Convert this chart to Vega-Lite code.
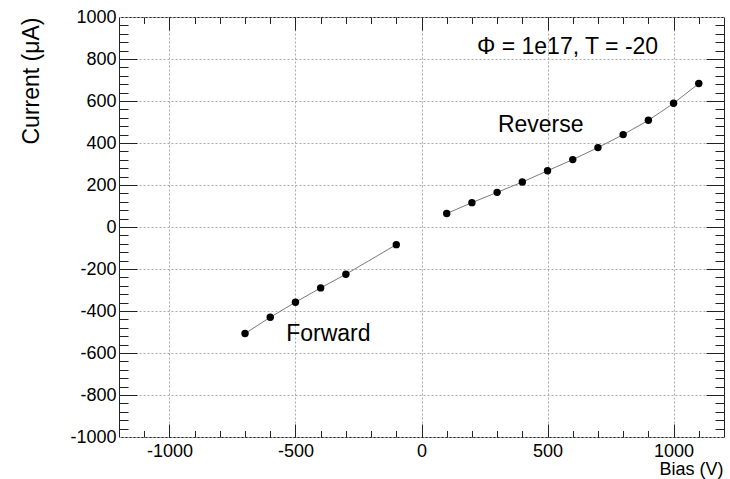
{
  "$schema": "https://vega.github.io/schema/vega-lite/v6.json",
  "width": 605,
  "height": 420,
  "autosize": {"type": "none"},
  "padding": {"left": 119, "top": 17, "right": 6, "bottom": 42},
  "background": "white",
  "config": {
    "font": "Liberation Sans",
    "view": {"stroke": "#222", "strokeWidth": 1},
    "axis": {
      "labelFont": "Liberation Sans",
      "titleFont": "Liberation Sans",
      "labelColor": "#000",
      "titleColor": "#000",
      "tickColor": "#222",
      "tickWidth": 1,
      "gridColor": "#aaa",
      "gridDash": [2, 2],
      "gridWidth": 1,
      "titleFontWeight": "normal"
    }
  },
  "datasets": {
    "pts": [
      {"series": "Forward", "bias": -700, "current": -507},
      {"series": "Forward", "bias": -600, "current": -430},
      {"series": "Forward", "bias": -500, "current": -358},
      {"series": "Forward", "bias": -400, "current": -290},
      {"series": "Forward", "bias": -300, "current": -225},
      {"series": "Forward", "bias": -100, "current": -84},
      {"series": "Reverse", "bias": 100, "current": 64},
      {"series": "Reverse", "bias": 200, "current": 116},
      {"series": "Reverse", "bias": 300, "current": 165},
      {"series": "Reverse", "bias": 400, "current": 214},
      {"series": "Reverse", "bias": 500, "current": 268},
      {"series": "Reverse", "bias": 600, "current": 321},
      {"series": "Reverse", "bias": 700, "current": 378},
      {"series": "Reverse", "bias": 800, "current": 440},
      {"series": "Reverse", "bias": 900, "current": 508},
      {"series": "Reverse", "bias": 1000, "current": 589},
      {"series": "Reverse", "bias": 1100, "current": 683}
    ],
    "notes": [
      {"label": "Φ = 1e17, T = -20", "bias": 220, "current": 823},
      {"label": "Reverse", "bias": 303, "current": 451},
      {"label": "Forward", "bias": -537, "current": -541}
    ]
  },
  "resolve": {"axis": {"x": "independent", "y": "independent"}},
  "layer": [
    {
      "mark": {"type": "rule", "color": "#444", "strokeWidth": 1.6},
      "encoding": {
        "y": {"datum": 0, "type": "quantitative", "scale": {"domain": [-1000, 1000], "nice": false, "zero": false}, "axis": null}
      }
    },
    {
      "data": {"name": "pts"},
      "mark": {"type": "line", "color": "#7a7a7a", "strokeWidth": 1},
      "encoding": {
        "x": {
          "field": "bias", "type": "quantitative",
          "scale": {"domain": [-1200, 1200], "nice": false, "zero": false},
          "axis": {
            "orient": "bottom", "values": [-1000, -500, 0, 500, 1000],
            "labelExpr": "'' + datum.value",
            "ticks": false, "domain": false, "grid": true,
            "labelFontSize": 18, "labelPadding": 5,
            "title": "Bias (V)", "titleFontSize": 18,
            "titleAlign": "right", "titleAnchor": "end", "titleX": 604, "titleY": 37, "titleBaseline": "alphabetic"
          }
        },
        "y": {
          "field": "current", "type": "quantitative",
          "scale": {"domain": [-1000, 1000], "nice": false, "zero": false},
          "axis": {
            "orient": "left", "values": [-1000, -800, -600, -400, -200, 0, 200, 400, 600, 800, 1000],
            "labelExpr": "'' + datum.value",
            "ticks": false, "domain": false, "grid": true,
            "labelFontSize": 18, "labelPadding": 3,
            "title": "Current (μA)", "titleFontSize": 23,
            "titleAngle": 270, "titleAlign": "right", "titleBaseline": "middle", "titleX": -88, "titleY": 0
          }
        },
        "detail": {"field": "series"}
      }
    },
    {
      "data": {"name": "pts"},
      "mark": {"type": "point", "filled": true, "color": "#000", "opacity": 1, "size": 55},
      "encoding": {
        "x": {
          "field": "bias", "type": "quantitative",
          "axis": {"orient": "bottom", "values": [-1000, -500, 0, 500, 1000], "labels": false, "grid": false, "domain": false, "offset": -13, "tickSize": 13, "title": null}
        },
        "y": {
          "field": "current", "type": "quantitative",
          "axis": {"orient": "left", "values": [-800, -600, -400, -200, 0, 200, 400, 600, 800], "labels": false, "grid": false, "domain": false, "offset": -18, "tickSize": 18, "title": null}
        }
      }
    },
    {
      "data": {"name": "pts"},
      "mark": {"type": "point", "opacity": 0},
      "encoding": {
        "x": {
          "field": "bias", "type": "quantitative",
          "axis": {"orient": "bottom", "values": [-1100, -1000, -900, -800, -700, -600, -500, -400, -300, -200, -100, 0, 100, 200, 300, 400, 500, 600, 700, 800, 900, 1000, 1100], "labels": false, "grid": false, "domain": false, "offset": -6.5, "tickSize": 6.5, "title": null}
        },
        "y": {
          "field": "current", "type": "quantitative",
          "axis": {"orient": "left", "values": [-960, -920, -880, -840, -800, -760, -720, -680, -640, -600, -560, -520, -480, -440, -400, -360, -320, -280, -240, -200, -160, -120, -80, -40, 0, 40, 80, 120, 160, 200, 240, 280, 320, 360, 400, 440, 480, 520, 560, 600, 640, 680, 720, 760, 800, 840, 880, 920, 960], "labels": false, "grid": false, "domain": false, "offset": -9, "tickSize": 9, "title": null}
        }
      }
    },
    {
      "data": {"name": "pts"},
      "mark": {"type": "point", "opacity": 0},
      "encoding": {
        "x": {
          "field": "bias", "type": "quantitative",
          "axis": {"orient": "top", "values": [-1000, -500, 0, 500, 1000], "labels": false, "grid": false, "domain": false, "offset": -13, "tickSize": 13, "title": null}
        },
        "y": {
          "field": "current", "type": "quantitative",
          "axis": {"orient": "right", "values": [-800, -600, -400, -200, 0, 200, 400, 600, 800], "labels": false, "grid": false, "domain": false, "offset": -18, "tickSize": 18, "title": null}
        }
      }
    },
    {
      "data": {"name": "pts"},
      "mark": {"type": "point", "opacity": 0},
      "encoding": {
        "x": {
          "field": "bias", "type": "quantitative",
          "axis": {"orient": "top", "values": [-1100, -1000, -900, -800, -700, -600, -500, -400, -300, -200, -100, 0, 100, 200, 300, 400, 500, 600, 700, 800, 900, 1000, 1100], "labels": false, "grid": false, "domain": false, "offset": -6.5, "tickSize": 6.5, "title": null}
        },
        "y": {
          "field": "current", "type": "quantitative",
          "axis": {"orient": "right", "values": [-960, -920, -880, -840, -800, -760, -720, -680, -640, -600, -560, -520, -480, -440, -400, -360, -320, -280, -240, -200, -160, -120, -80, -40, 0, 40, 80, 120, 160, 200, 240, 280, 320, 360, 400, 440, 480, 520, 560, 600, 640, 680, 720, 760, 800, 840, 880, 920, 960], "labels": false, "grid": false, "domain": false, "offset": -9, "tickSize": 9, "title": null}
        }
      }
    },
    {
      "data": {"name": "notes"},
      "mark": {"type": "text", "align": "left", "baseline": "alphabetic", "fontSize": 23, "color": "#000", "font": "Liberation Sans"},
      "encoding": {
        "x": {"field": "bias", "type": "quantitative", "axis": null},
        "y": {"field": "current", "type": "quantitative", "axis": null},
        "text": {"field": "label"}
      }
    }
  ]
}
